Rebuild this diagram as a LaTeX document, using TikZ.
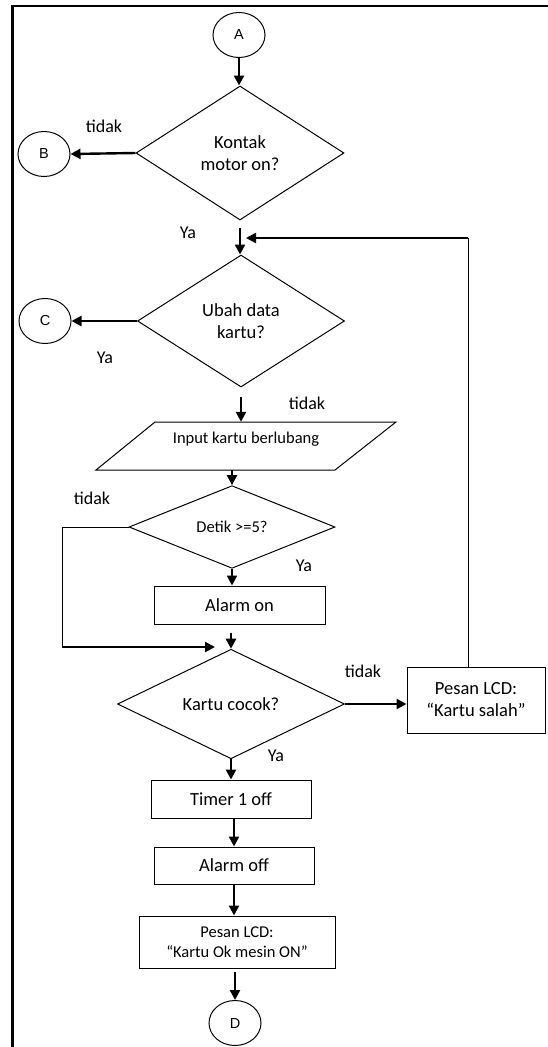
\documentclass[tikz,border=0pt]{standalone}
\usepackage{fontspec}
\setmainfont{Carlito}
\newfontfamily\arialf{Liberation Sans}
\usetikzlibrary{shapes.geometric,arrows.meta}
\begin{document}
\begin{tikzpicture}[x=1pt,y=-1pt,
  every node/.style={font=\fontsize{18.5}{22}\selectfont, text=black},
  conn/.style={draw, line width=1pt, ellipse, minimum width=52pt, minimum height=45pt, inner sep=0pt, font=\arialf\fontsize{14.5}{16}\selectfont},
  dec/.style={draw, line width=1pt, diamond, inner sep=0pt, align=center},
  proc/.style={draw, line width=1pt, rectangle, inner sep=0pt, align=center},
  small/.style={font=\fontsize{16.5}{20}\selectfont},
  flow/.style={line width=2.4pt, -{Triangle[length=10pt,width=10pt]}},
  thinl/.style={line width=1pt},
  lab/.style={font=\fontsize{18}{20}\selectfont}
]
\useasboundingbox (0,0) rectangle (547,1047);
% frame
\draw[line width=2.4pt, line join=miter] (12.6,1050) -- (12.6,6) -- (550,6);

% nodes
\node[conn] (A) at (239,35) {A};
\node[dec, minimum width=208pt, minimum height=134pt] (d1) at (240,153) {Kontak\\motor on?};
\node[conn] (B) at (44,154) {B};
\node[dec, minimum width=207pt, minimum height=132pt] (d2) at (241,321) {Ubah data\\kartu?};
\node[conn] (C) at (45,321) {C};
\draw[thinl] (155,422) -- (396,422) -- (335,470) -- (96,470) -- cycle;
\node[minimum width=180pt, minimum height=48pt, inner sep=0pt] (inp) at (246,446) {};
\node[small] (inptxt) at (246,439) {Input kartu berlubang};
\node[dec, small, minimum width=206pt, minimum height=64pt] (d3) at (232,527) {Detik >=5?};
\node[proc, minimum width=171pt, minimum height=38pt] (al) at (239.5,605) {Alarm on};
\node[dec, minimum width=227pt, minimum height=84pt] (d4) at (231,704) {Kartu cocok?};
\node[proc, minimum width=138pt, minimum height=66pt] (lcd1) at (476,700) {Pesan LCD:\\“Kartu salah”};
\node[proc, minimum width=160pt, minimum height=38pt] (tim) at (231,799) {Timer 1 off};
\node[proc, minimum width=160pt, minimum height=37pt] (aoff) at (234,865.5) {Alarm off};
\node[proc, small, minimum width=196pt, minimum height=52pt] (lcd2) at (237,942) {Pesan LCD:\\“Kartu Ok mesin ON”};
\node[conn] (D) at (235,1023) {D};

% helper coordinates
\coordinate (fbx) at (468,238);
\coordinate (fbend) at (246,238);
\coordinate (byx) at (62,528);
\coordinate (byend) at (215,647);

% connectors
\draw[flow] (A.south) -- (A.south |- d1.north);
\draw[flow] (d1.west) -- (B.east);
\draw[flow, shorten <=7pt] (d1.south) -- (d1.south |- d2.north);
\draw[flow] (d2.west) -- (C.east);
\draw[flow, shorten <=9pt] (d2.south) -- (d2.south |- inp.north);
\draw[flow] (d3.north |- inp.south) -- (d3.north);
\draw[flow] (d3.south) -- (d3.south |- al.north);
\draw[flow, shorten <=8pt] (d4.north |- al.south) -- (d4.north);
\draw[flow] (d4.east) -- (d4.east -| lcd1.west);
\draw[flow] (d4.south) -- (d4.south |- tim.north);
\draw[flow] (aoff.north |- tim.south) -- (aoff.north);
\draw[flow] (aoff.south) -- (aoff.south |- lcd2.north);
\draw[flow, shorten <=3pt] (D.north |- lcd2.south) -- (D.north);
% feedback loop
\draw[thinl] (fbx |- lcd1.north) -- (fbx);
\draw[flow] (fbx) -- (fbend);
% bypass
\draw[thinl] (d3.west) -- (d3.west -| byx) -- (byx |- byend);
\draw[flow] (byx |- byend) -- (byend);

% labels
\node[lab] (l1) at (104,126) {tidak};
\node[lab] (l2) at (188,233) {Ya};
\node[lab] (l3) at (105,358) {Ya};
\node[lab] (l4) at (307,403) {tidak};
\node[lab] (l5) at (92,498) {tidak};
\node[lab] (l6) at (304,566) {Ya};
\node[lab] (l7) at (363,671) {tidak};
\node[lab] (l8) at (276,756) {Ya};
\end{tikzpicture}
\end{document}
